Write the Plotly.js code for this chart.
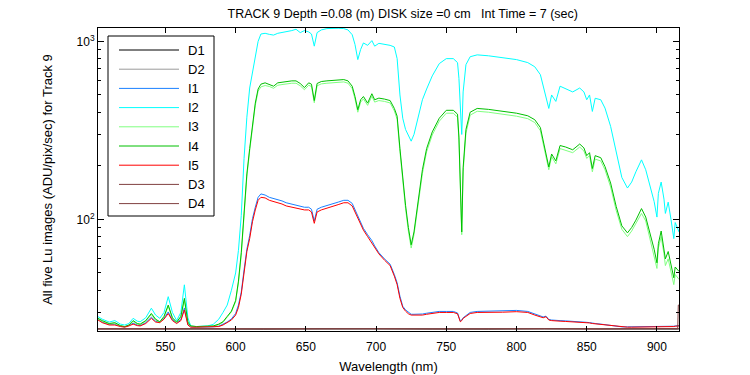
<!DOCTYPE html>
<html><head><meta charset="utf-8">
<script src="https://cdn.plot.ly/plotly-3.0.1.min.js"></script>
<style>body{margin:0;background:#fff}#chart{width:750px;height:375px}</style>
</head><body><div id="chart"></div>
<script>
// ---- data ----
const wavelength = [
 502,505,510,514,518,521,524,527,530,532,
 536,540,543,546,549,552,555,558,561,563.5,
 566,568,572,576,580,584,588,591,594,597,
 600,602,604,606,608,610,612,614,616,618,
 621,624,627,630,633,636,640,643,646,649,
 652,654,656,658,661,665,669,673,677,680,
 683,685,687,689,691,694,697,699,702,706,
 710,713,715,717,719,721,723,725,727,730,
 733,736,740,745,750,755,758,759,760,761,
 762,764,767,772,780,790,800,808,813,817,
 819,821,823,825,828,831,835,840,845,848,
 850,852,854,856,860,863,867,871,875,879,
 882,885,889,892,895,898,900,901,903,905,
 906,908,910,912,913,915.7];

const i1 = [
 27.5,26.5,25.7,25.8,25.1,24.9,25.4,26.1,25.5,25.3,
 26.3,28.2,26.8,26.5,27.8,30.2,27.3,26.2,27.4,31.8,
 25.7,24.9,24.8,24.8,24.8,24.9,25.1,25.7,26.5,27.6,
 29.6,33,39,52,68,81,101,117,133,139,
 137,133,131,130,127,124,122,120,118,117,
 117,114,98,114,117,120,122,125,128,128,
 123,113,103,95,89,82,76,71,65,60,
 56,49,44,37,32.5,31,30,29.3,29.3,29.3,
 29.4,29.7,30.1,30.4,30.4,30.4,29.8,27.8,26.8,27.2,
 28,28.8,30,30.4,30.5,30.6,30.8,30.4,29.4,28.5,
 28.3,28.6,27.4,27.2,27.2,27,26.9,26.8,26.6,26.5,
 26.4,26.3,26.1,26,25.8,25.6,25.4,25.1,24.9,24.9,
 24.9,24.9,24.9,24.9,24.9,24.9,24.9,24.9,24.9,24.9,
 24.9,24.9,25,25.1,25.2,25.3];

const i2 = [
 28.4,27.5,26.5,27,25.8,25.5,26,27.8,26.8,26.6,
 28,31.7,29,27.8,30,36.8,30,27,30,42.9,
 28,25.2,25,25,25.2,25.7,27.5,30,33,40,
 50,67,105,220,375,547,680,800,1000,1100,
 1110,1095,1085,1110,1120,1135,1150,1170,1120,1150,
 1130,1100,940,1120,1160,1180,1185,1185,1180,1160,
 1090,960,790,900,980,950,1010,940,975,965,
 950,930,800,500,370,320,295,275,300,380,
 470,540,640,750,800,800,760,620,420,300,
 520,740,820,840,830,810,790,760,720,650,
 560,480,420,500,460,560,540,520,547,520,
 470,500,404,479,470,422,333,240,172,150,
 162,185,216,190,153,126,103,140,162,130,
 108,125,100,78,96,85];

const i3 = [
 27.5,26.7,25.8,26,25.2,24.9,25.3,26.7,25.8,25.6,
 26.8,29.2,27.2,26.4,28.2,32.5,27.7,26.3,28.2,35.3,
 26.3,25.1,24.9,24.9,24.9,25.1,25.6,26.4,28.2,30.2,
 34.5,44,63,106,174,243,330,437,525,555,
 565,558,545,567,572,577,582,582,563,535,
 567,558,452,563,577,582,587,587,592,582,
 543,475,400,456,475,437,492,456,465,460,
 451,407,365,240,163,115,86,69,82,124,
 181,240,298,356,395,395,375,280,144,82,
 185,305,385,405,400,390,380,368,350,315,
 270,225,190,225,205,250,245,237,255,242,
 220,228,185,218,213,190,152,112,88,80,
 86,95,108,98,78,64,53,69,80,64,
 55,60,50,43,49,46];

const i4 = [
 27.8,27,26,26.3,25.3,25,25.5,27,26,25.8,
 27,29.6,27.5,26.6,28.5,33,28,26.5,28.5,36,
 26.5,25.2,25,25,25,25.2,25.8,26.6,28.5,30.5,
 35,45,65,110,180,250,340,450,540,575,
 585,575,560,585,590,595,600,600,580,550,
 585,575,465,580,595,600,605,605,610,600,
 560,490,413,470,490,450,508,470,480,474,
 465,420,380,250,170,120,90,72,85,130,
 190,250,310,370,410,410,390,290,150,85,
 195,320,400,420,415,405,395,382,363,328,
 280,233,197,233,213,260,255,246,265,252,
 228,237,193,228,222,198,160,118,92,84,
 90,99,115,103,84,68,57,73,86,70,
 60,66,55,47,54,51];

const i5 = [
 27.2,26.3,25.5,25.5,25,24.8,25.2,25.8,25.3,25.2,
 26,27.8,26.5,26.3,27.5,29.6,27,26,27,31,
 25.5,24.8,24.8,24.8,24.8,24.8,25,25.5,26.2,27.2,
 29,32,38,50,66,78,97,113,128,133,
 132,128,126,125,122,119,117,115,114,113,
 113,110,95,110,113,116,118,121,124,124,
 119,110,100,92,87,80,74,70,64,59,
 55,48,43,36,32,30.5,29.5,29,29,29,
 29,29.3,29.7,30,30,30,29.5,27.5,26.6,27,
 27.8,28.5,29.6,30,30,30.1,30.3,30,29,28.2,
 28,28.4,27.2,27,27,26.8,26.7,26.6,26.4,26.3,
 26.3,26.2,26,25.9,25.7,25.5,25.3,25,24.8,24.8,
 24.8,24.8,24.8,24.8,24.8,24.8,24.8,24.8,24.8,24.8,
 24.8,24.8,24.9,25,25.1,25.2];

const darkWavelength = [502,540,580,620,660,700,740,780,820,860,900,914.8,915.2,915.7];
const d1 = [24.3,24.2,24.3,24.2,24.3,24.2,24.3,24.2,24.3,24.2,24.3,24.2,24.3,24.2];
const d2 = [24.2,24.3,24.2,24.3,24.2,24.3,24.2,24.3,24.2,24.3,24.2,24.3,24.2,24.3];
const d3 = [24.3,24.3,24.2,24.3,24.3,24.2,24.3,24.3,24.2,24.3,24.3,24.3,24.3,24.3];
const d4 = [24.2,24.3,24.3,24.2,24.3,24.3,24.2,24.3,24.3,24.2,24.3,24.4,33,33];

const seriesNames  = ['D1','D2','I1','I2','I3','I4','I5','D3','D4'];
const seriesColors = ['#000000','#9a9a9a','#1a80ff','#00ffff','#80ff80','#00c000','#ff0000','#804040','#804040'];
const seriesX = [darkWavelength,darkWavelength,wavelength,wavelength,wavelength,wavelength,wavelength,darkWavelength,darkWavelength];
const seriesY = [d1,d2,i1,i2,i3,i4,i5,d3,d4];

const majorTicks = [100,1000];
const majorTickText = ['10<sup>2</sup>','10<sup>3</sup>'];
const minorTicks = [30,40,50,60,70,80,90,200,300,400,500,600,700,800,900];
const xTicks = [550,600,650,700,750,800,850,900];

// ---- figure ----
const FONT = 'Liberation Sans, Arial, Helvetica, sans-serif';
const L = 98, R = 679, T = 28, B = 331;
const W = R - L, H = B - T;
const fx = p => (p - L) / W;
const fy = p => (B - p) / H;

const traces = seriesNames.map((n, k) => ({
  type: 'scatter', mode: 'lines', name: n,
  x: seriesX[k], y: seriesY[k],
  line: {color: seriesColors[k], width: 1},
  showlegend: false, hoverinfo: 'x+y+name'
}));

// MATLAB-like legend box
const shapes = [{
  type: 'rect', xref: 'paper', yref: 'paper',
  x0: fx(108), x1: fx(214), y0: fy(216), y1: fy(36),
  line: {color: 'black', width: 1}, fillcolor: 'white', layer: 'above'
}];
const annotations = [];
seriesNames.forEach((n, k) => {
  const yc = 50 + k * 19.2;
  shapes.push({type: 'line', xref: 'paper', yref: 'paper',
    x0: fx(119), x1: fx(179), y0: fy(yc), y1: fy(yc),
    line: {color: seriesColors[k], width: 1}, layer: 'above'});
  annotations.push({xref: 'paper', yref: 'paper', x: fx(186), y: fy(yc),
    xanchor: 'left', yanchor: 'middle', text: n, showarrow: false,
    font: {family: FONT, size: 13, color: 'black'}});
});

const layout = {
  width: 750, height: 375,
  margin: {l: L, r: 750 - R, t: T, b: 375 - B, pad: 0},
  paper_bgcolor: 'white', plot_bgcolor: 'white',
  font: {family: FONT, size: 12, color: 'black'},
  showlegend: false,
  title: {text: 'TRACK 9 Depth =0.08 (m) DISK size =0 cm \u00a0 Int Time = 7 (sec)',
          x: 0.537, xanchor: 'center', y: 0.965, yanchor: 'middle',
          font: {family: FONT, size: 12.5, color: 'black'}},
  xaxis: {range: [502, 915.7], tickmode: 'array', tickvals: xTicks,
          ticks: 'inside', ticklen: 5, tickcolor: 'black', showline: true,
          linecolor: 'black', linewidth: 1, mirror: 'ticks', showgrid: false,
          zeroline: false, tickfont: {family: FONT, size: 12}, ticklabelstandoff: 5,
          title: {text: 'Wavelength (nm)', font: {family: FONT, size: 13}, standoff: 8}},
  yaxis: {type: 'log', range: [Math.log10(23.6), Math.log10(1189)],
          tickmode: 'array', tickvals: majorTicks, ticktext: majorTickText,
          ticks: 'inside', ticklen: 6, tickcolor: 'black', showline: true,
          linecolor: 'black', linewidth: 1, mirror: 'ticks', showgrid: false,
          zeroline: false, tickfont: {family: FONT, size: 12},
          minor: {tickmode: 'array', tickvals: minorTicks, ticks: 'inside',
                  ticklen: 3, tickcolor: 'black', showgrid: false},
          title: {text: 'All five Lu images (ADU/pix/sec) for Track 9',
                  font: {family: FONT, size: 13}, standoff: 21}},
  shapes: shapes, annotations: annotations
};

Plotly.newPlot('chart', traces, layout, {displayModeBar: false, staticPlot: true});
</script></body></html>
